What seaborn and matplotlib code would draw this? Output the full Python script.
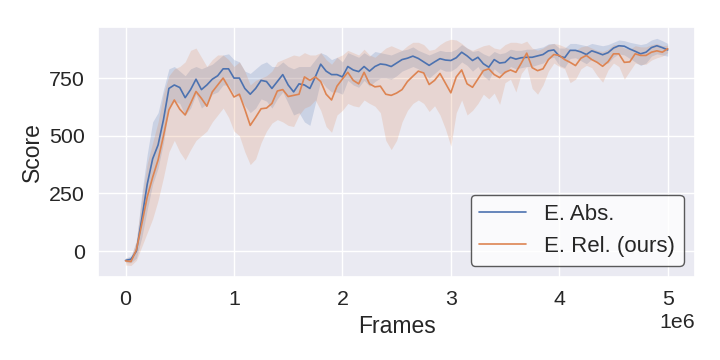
import numpy as np
import pandas as pd
import matplotlib
matplotlib.use("Agg")
import matplotlib.pyplot as plt
import seaborn as sns

# x grid in millions of frames (0.00 .. 5.00 step 0.05)
frames_m = [round(i * 0.05, 2) for i in range(101)]

abs_mean = [-40, -35, 0, 140, 290, 400, 460, 570, 705, 720,
            709, 665, 700, 745, 700, 720, 745, 760, 790, 790,
            750, 750, 705, 680, 705, 740, 735, 705, 735, 765,
            720, 690, 725, 720, 705, 755, 810, 780, 765, 765,
            755, 800, 785, 778, 800, 780, 800, 811, 808, 800,
            815, 830, 836, 845, 835, 820, 805, 820, 834, 828,
            826, 838, 862, 846, 826, 840, 812, 797, 830, 815,
            818, 840, 832, 838, 840, 840, 846, 852, 868, 872,
            845, 838, 870, 870, 863, 852, 868, 860, 851, 860,
            880, 890, 888, 876, 866, 855, 862, 882, 890, 882,
            872]
abs_hi = [-30, -20, 40, 250, 420, 560, 600, 700, 790, 800,
          780, 760, 790, 800, 790, 800, 810, 830, 850, 855,
          830, 820, 780, 770, 790, 810, 820, 800, 800, 820,
          800, 790, 800, 800, 800, 830, 860, 850, 830, 840,
          820, 860, 850, 840, 860, 845, 865, 860, 855, 850,
          860, 870, 875, 885, 870, 860, 850, 860, 870, 865,
          865, 875, 895, 880, 865, 870, 855, 845, 865, 855,
          860, 875, 870, 870, 875, 875, 880, 885, 898, 900,
          880, 880, 900, 900, 895, 890, 900, 895, 890, 895,
          905, 915, 912, 905, 900, 895, 900, 915, 922, 912,
          900]
abs_lo = [-50, -50, -30, 60, 180, 290, 360, 470, 620, 650,
          640, 590, 620, 680, 620, 640, 680, 690, 720, 720,
          680, 670, 630, 600, 620, 660, 650, 620, 660, 690,
          640, 590, 600, 560, 545, 640, 740, 710, 690, 690,
          680, 740, 720, 710, 740, 715, 735, 750, 750, 745,
          760, 780, 790, 800, 790, 770, 750, 770, 790, 780,
          780, 795, 820, 805, 780, 800, 760, 740, 790, 770,
          770, 800, 790, 795, 800, 800, 808, 815, 835, 840,
          805, 795, 835, 838, 825, 812, 832, 822, 810, 815,
          840, 855, 850, 835, 820, 805, 815, 845, 855, 850,
          845]

rel_mean = [-42, -45, 5, 118, 235, 320, 395, 500, 612, 655,
            615, 590, 640, 692, 662, 628, 690, 720, 750, 710,
            668, 680, 615, 545, 580, 617, 620, 640, 694, 700,
            670, 675, 680, 755, 740, 755, 735, 680, 655, 715,
            746, 775, 740, 725, 775, 725, 712, 715, 680, 675,
            685, 700, 735, 758, 780, 772, 722, 740, 770, 728,
            686, 755, 785, 725, 710, 746, 782, 790, 765, 752,
            775, 785, 775, 815, 858, 795, 782, 790, 830, 852,
            848, 830, 818, 804, 836, 848, 830, 818, 801, 821,
            855, 855, 818, 820, 855, 848, 848, 862, 868, 862,
            877]
rel_hi = [-30, -30, 50, 230, 380, 470, 560, 680, 760, 790,
          800, 820, 870, 880, 840, 800, 830, 850, 850, 830,
          800, 820, 780, 720, 740, 750, 760, 780, 820, 830,
          840, 850, 845, 860, 850, 850, 860, 830, 810, 840,
          850, 870, 860, 850, 875, 850, 840, 860, 880, 890,
          880, 870, 890, 905, 905, 895, 870, 875, 895, 910,
          918, 915, 900, 880, 870, 880, 890, 895, 880, 875,
          895, 905, 905, 900, 910, 880, 870, 880, 895, 900,
          895, 885, 875, 870, 885, 890, 880, 870, 865, 875,
          895, 895, 880, 875, 890, 885, 885, 895, 900, 890,
          893]
rel_lo = [-60, -62, -40, 20, 80, 140, 220, 320, 430, 480,
          430, 395, 440, 480, 500, 520, 560, 590, 620, 580,
          520, 500, 430, 375, 400, 470, 520, 555, 570, 560,
          545, 540, 590, 620, 630, 655, 610, 540, 515, 590,
          610, 640, 630, 625, 655, 640, 628, 600, 480, 440,
          480, 560, 610, 640, 655, 640, 605, 630, 590, 530,
          455, 600, 655, 590, 610, 640, 680, 660, 685, 636,
          730, 745, 690, 770, 800, 705, 680, 720, 780, 815,
          800, 790, 730, 745, 790, 805, 795, 760, 732, 785,
          815, 800, 745, 780, 815, 808, 810, 828, 838, 845,
          860]

labels = ["E. Abs.", "E. Rel. (ours)"]

sns.set_theme(style="darkgrid", font_scale=1.4)
plt.rcParams["font.family"] = ["Liberation Sans", "DejaVu Sans"]

frames = np.array(frames_m) * 1e6
df = pd.concat([
    pd.DataFrame({"Frames": frames, "Score": abs_mean, "Method": labels[0]}),
    pd.DataFrame({"Frames": frames, "Score": rel_mean, "Method": labels[1]}),
])

fig, ax = plt.subplots(figsize=(7.2, 3.6), dpi=100)
fig.subplots_adjust(left=0.1367, right=0.965, top=0.925, bottom=0.231)

pal = sns.color_palette("deep")
sns.lineplot(data=df, x="Frames", y="Score", hue="Method", palette=pal[:2],
             linewidth=1.2, ax=ax, errorbar=None)
ax.fill_between(frames, abs_lo, abs_hi, color=pal[0], alpha=0.2, linewidth=0)
ax.fill_between(frames, rel_lo, rel_hi, color=pal[1], alpha=0.2, linewidth=0)

ax.set_yticks([0, 250, 500, 750])
ax.set_xlabel("Frames", fontsize=16.5)
ax.set_ylabel("Score", fontsize=16.5)
leg = ax.legend(loc="lower right", frameon=True, title=None, fontsize=16,
                handlelength=2.1)
leg.get_frame().set_edgecolor("#333333")
leg.get_frame().set_facecolor("white")

fig.savefig("out.png", dpi=100)
